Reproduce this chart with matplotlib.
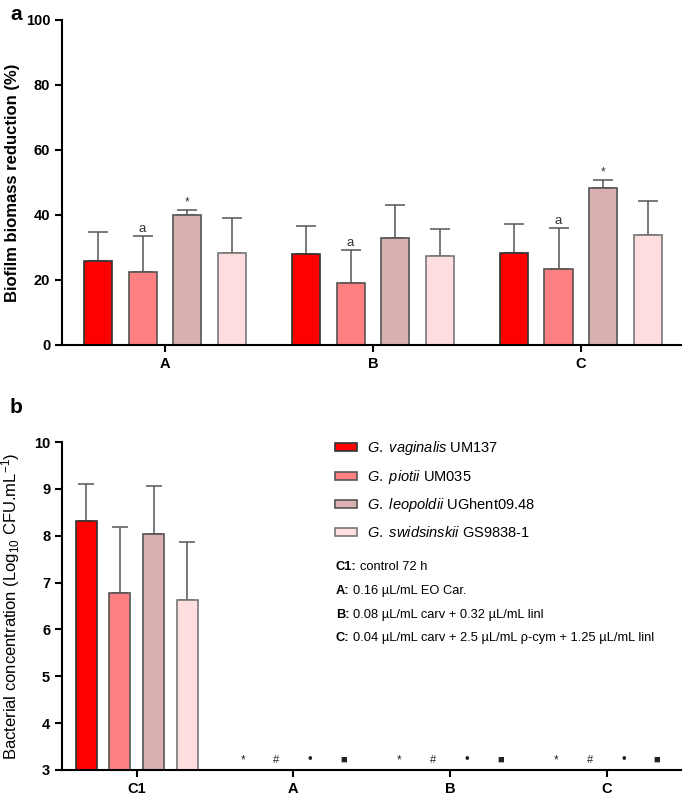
import matplotlib
matplotlib.use("Agg")
import matplotlib.pyplot as plt
import numpy as np

plt.rcParams['font.family'] = ['Liberation Sans', 'DejaVu Sans']
plt.rcParams['mathtext.fontset'] = 'custom'
plt.rcParams['mathtext.rm'] = 'Liberation Sans'
plt.rcParams['mathtext.it'] = 'Liberation Sans:italic'
plt.rcParams['mathtext.bf'] = 'Liberation Sans:bold'

# --- data ---
strains = [r'$\it{G.\ vaginalis}$ UM137', r'$\it{G.\ piotii}$ UM035',
           r'$\it{G.\ leopoldii}$ UGhent09.48', r'$\it{G.\ swidsinskii}$ GS9838-1']
colors = ['#FF0000', '#FF8080', '#D8B0B0', '#FFDEDF']
edges = ['#333333', '#555555', '#555555', '#777777']

groups_a = ['A', 'B', 'C']
# rows = strains, cols = groups
reduction = [[25.9, 27.9, 28.4],
             [22.5, 19.0, 23.3],
             [39.9, 33.0, 48.4],
             [28.2, 27.5, 33.8]]
reduction_err = [[8.8, 8.8, 8.7],
                 [10.9, 10.2, 12.7],
                 [1.6, 10.0, 2.4],
                 [10.9, 8.2, 10.4]]
annot_a = [['', '', ''],
           ['a', 'a', 'a'],
           ['*', '', '*'],
           ['', '', '']]

groups_b = ['C1', 'A', 'B', 'C']
conc_c1 = [8.32, 6.78, 8.03, 6.63]
conc_c1_err = [0.79, 1.41, 1.04, 1.24]
symbols_b = ['*', '#', '\u2022', '\u25A0']
sym_sizes = [8.5, 8, 9.5, 8]

cond_keys = ['C1:', 'A:', 'B:', 'C:']
cond_texts = ['control 72 h',
              '0.16 µL/mL EO Car.',
              '0.08 µL/mL carv + 0.32 µL/mL linl',
              '0.04 µL/mL carv + 2.5 µL/mL ρ-cym + 1.25 µL/mL linl']

offsets = np.array([-1.5, -0.5, 0.5, 1.5]) * 0.215
width = 0.135


def style_axes(ax):
    for s in ['top', 'right']:
        ax.spines[s].set_visible(False)
    for s in ['left', 'bottom']:
        ax.spines[s].set_linewidth(1.5)
    ax.tick_params(axis='both', direction='out', length=5, width=1.5,
                   labelsize=10.5)
    for lab in ax.get_xticklabels() + ax.get_yticklabels():
        lab.set_fontweight('bold')


fig = plt.figure(figsize=(6.85, 7.98), dpi=100)

# ---------- panel a ----------
ax_a = fig.add_axes([0.0905, 0.5677, 0.9035, 0.4073])
xa = np.arange(len(groups_a))
for i in range(4):
    ax_a.bar(xa + offsets[i], reduction[i], width, color=colors[i],
             edgecolor=edges[i], linewidth=1.2, zorder=2)
    ax_a.errorbar(xa + offsets[i], reduction[i],
                  yerr=[np.zeros(3), reduction_err[i]], fmt='none',
                  ecolor='#555555', elinewidth=1.1, capsize=7, capthick=1.1,
                  zorder=1)
    for j in range(3):
        if annot_a[i][j]:
            top = reduction[i][j] + reduction_err[i][j]
            ax_a.text(xa[j] + offsets[i], top + 0.4, annot_a[i][j],
                      ha='center', va='bottom', color='#333333',
                      fontsize=9.5 if annot_a[i][j] == 'a' else 8.5)
ax_a.set_xlim(-0.495, 2.481)
ax_a.set_ylim(0, 100)
ax_a.set_yticks(range(0, 101, 20))
ax_a.set_xticks(xa)
ax_a.set_xticklabels(groups_a)
ax_a.set_ylabel('Biofilm biomass reduction (%)', fontsize=12, fontweight='bold')
ax_a.yaxis.set_label_coords(-0.068, 0.5)
style_axes(ax_a)

# ---------- panel b ----------
ax_b = fig.add_axes([0.0905, 0.0351, 0.9035, 0.411])
xb = np.arange(len(groups_b))
handles = []
for i in range(4):
    h = ax_b.bar(xb[0] + offsets[i], conc_c1[i], width, bottom=0,
                 color=colors[i], edgecolor=edges[i], linewidth=1.2,
                 zorder=2, label=strains[i])
    handles.append(h)
    ax_b.errorbar(xb[0] + offsets[i], conc_c1[i],
                  yerr=[[0], [conc_c1_err[i]]], fmt='none',
                  ecolor='#555555', elinewidth=1.1, capsize=6, capthick=1.1,
                  zorder=1)
    for g in xb[1:]:
        ax_b.text(g + offsets[i], 3.21, symbols_b[i], ha='center',
                  va='center', fontsize=sym_sizes[i], color='#222222')
ax_b.set_xlim(-0.477, 3.474)
ax_b.set_ylim(3, 10)
ax_b.set_yticks(range(3, 11))
ax_b.set_xticks(xb)
ax_b.set_xticklabels(groups_b)
ax_b.set_ylabel(r'Bacterial concentration (Log$_{10}$ CFU.mL$^{-1}$)',
                fontsize=12)
ax_b.yaxis.set_label_coords(-0.064, 0.5)
style_axes(ax_b)

ax_b.legend(handles=handles, loc='upper left', bbox_to_anchor=(0.43, 1.03),
            frameon=False, fontsize=10.5, handlelength=1.5, handleheight=0.45,
            handletextpad=0.7, labelspacing=0.72, borderpad=0)

cond_y = [567, 591, 615, 638]
for key, txt, y in zip(cond_keys, cond_texts, cond_y):
    t = fig.text(336 / 685, 1 - y / 798, key, ha='left', va='center',
                 fontsize=9.3, fontweight='bold')
    fig.canvas.draw()
    bb = t.get_window_extent()
    fig.text((bb.x1 + 3) / 685, 1 - y / 798, txt, ha='left', va='center',
             fontsize=9.3)

fig.text(0.023, 0.982, 'a', fontsize=15, fontweight='bold', ha='center', va='center')
fig.text(0.023, 0.489, 'b', fontsize=15, fontweight='bold', ha='center', va='center')

fig.savefig('out.png', dpi=100)
